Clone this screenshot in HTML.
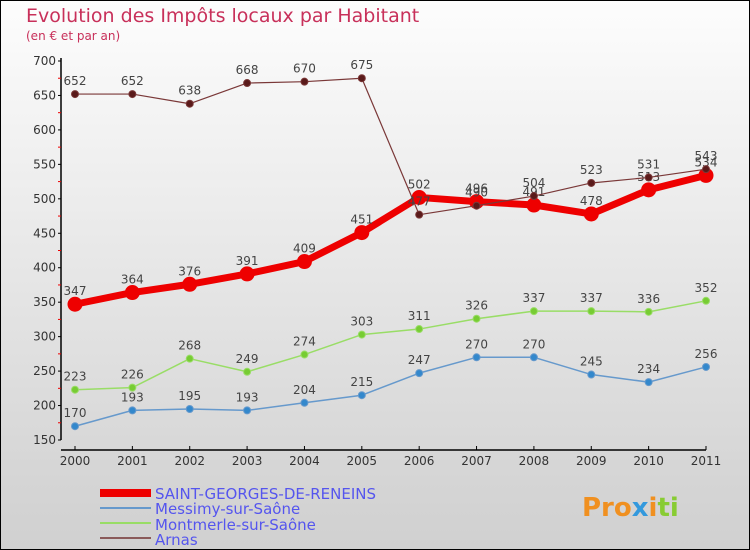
<!DOCTYPE html>
<html><head><meta charset="utf-8"><style>
body{margin:0;width:750px;height:550px;overflow:hidden;font-family:"DejaVu Sans","Liberation Sans",sans-serif}
svg{display:block}
</style></head><body>
<svg width="750" height="550" xmlns="http://www.w3.org/2000/svg">
<defs><linearGradient id="bg" x1="0" y1="0" x2="0" y2="1"><stop offset="0" stop-color="#fdfdfd"/><stop offset="0.85" stop-color="#d6d6d6"/><stop offset="1" stop-color="#d0d0d0"/></linearGradient></defs>
<rect width="750" height="550" fill="url(#bg)" stroke="#000" stroke-width="2"/>
<text x="26" y="22" font-size="19" fill="#c8305a">Evolution des Impôts locaux par Habitant</text>
<text x="26" y="40" font-size="12" fill="#c8305a">(en € et par an)</text>
<g id="axes"></g><g id="series"></g>
<g>
<rect x="100" y="489" width="51" height="8" fill="#e00"/>
<text x="155" y="499" font-size="15" fill="#5555ee">SAINT-GEORGES-DE-RENEINS</text>
<rect x="100" y="507" width="51" height="2" fill="#6699cc"/>
<text x="155" y="514" font-size="15" fill="#5555ee">Messimy-sur-Saône</text>
<rect x="100" y="522" width="51" height="2" fill="#99dd66"/>
<text x="155" y="530" font-size="15" fill="#5555ee">Montmerle-sur-Saône</text>
<rect x="100" y="537" width="51" height="2" fill="#8a5a5a"/>
<text x="155" y="545" font-size="15" fill="#5555ee">Arnas</text>
</g>
<g font-size="26" font-weight="bold">
<text x="582" y="516"><tspan fill="#f09020">Pro</tspan><tspan fill="#3399dd">x</tspan><tspan fill="#f09020">i</tspan><tspan fill="#88cc33">ti</tspan></text>
</g>
</svg>
<script>
const years=["2000","2001","2002","2003","2004","2005","2006","2007","2008","2009","2010","2011"];
const yTicks=[150,200,250,300,350,400,450,500,550,600,650,700];
const saintGeorges=[347,364,376,391,409,451,502,496,491,478,513,534];
const messimy=[170,193,195,193,204,215,247,270,270,245,234,256];
const montmerle=[223,226,268,249,274,303,311,326,337,337,336,352];
const arnas=[652,652,638,668,670,675,477,490,504,523,531,543];
const NS="http://www.w3.org/2000/svg";
const X=i=>75+i*(706-75)/11;
const Y=v=>61+(700-v)*379/550;
function mk(t,a,p){const e=document.createElementNS(NS,t);for(const k in a)e.setAttribute(k,a[k]);p.appendChild(e);return e;}
const ax=document.getElementById('axes');
let e=mk('line',{x1:61,y1:58,x2:61,y2:Y(150),stroke:'#000','stroke-width':1.5},ax);


e=mk('line',{x1:61,y1:450,x2:X(11),y2:450,stroke:'#000','stroke-width':1.5},ax);


yTicks.forEach((v,i)=>{
  mk('line',{x1:58,y1:Y(v),x2:61,y2:Y(v),stroke:'#000'},ax);
  if(i<yTicks.length-1) mk('line',{x1:58,y1:Y(v+25),x2:61,y2:Y(v+25),stroke:'#e00'},ax);
  const t=mk('text',{x:56,y:Y(v)+4,'font-size':12,'text-anchor':'end',fill:'#333'},ax);
  t.textContent=v;
  
  
});
years.forEach((y,i)=>{
  mk('line',{x1:X(i),y1:446,x2:X(i),y2:450,stroke:'#000'},ax);
  const t=mk('text',{x:X(i),y:465,'font-size':12,'text-anchor':'middle',fill:'#333'},ax);
  t.textContent=y;
  
  
});
const sg=document.getElementById('series');
function draw(data,color,dot,w,r,name){
  const g=mk('g',{},sg);
  
  
  const l=mk('polyline',{points:data.map((v,i)=>X(i)+','+Y(v)).join(' '),fill:'none',stroke:color,'stroke-width':w,'stroke-linejoin':'round'},g);
  
  
  data.forEach((v,i)=>{
    const c=mk('circle',{cx:X(i),cy:Y(v),r:r,fill:dot,stroke:color,'stroke-width':1},g);
    
    
    const t=mk('text',{x:X(i),y:Y(v)-9,'font-size':12,'text-anchor':'middle',fill:'#444'},g);
    t.textContent=v;
    
    
  });
}
draw(messimy,'#6699cc','#3388cc',1.5,3.5,'messimy');
draw(montmerle,'#99dd66','#77cc33',1.5,3.5,'montmerle');
draw(saintGeorges,'#ee0000','#ee0000',7,7,'saint-georges');
draw(arnas,'#7a3838','#5a1a1a',1.2,3.5,'arnas');
</script>
</body></html>
